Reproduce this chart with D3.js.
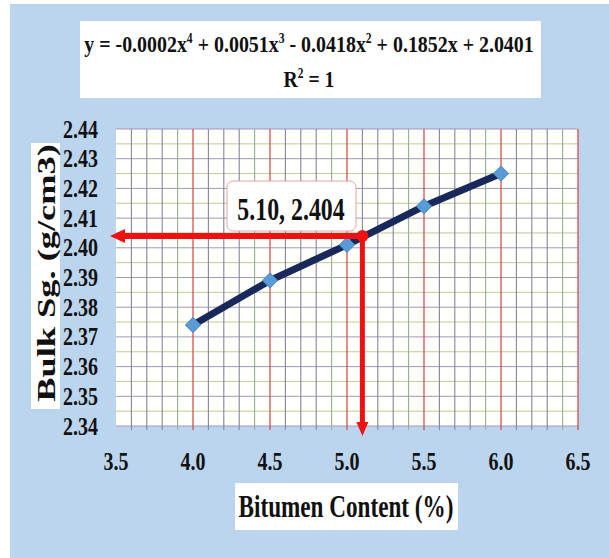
<!DOCTYPE html>
<html><head><meta charset="utf-8">
<script src="https://cdn.jsdelivr.net/npm/d3@7"></script>
<style>body{margin:0;background:#fff}svg{display:block}</style>
</head><body>
<svg id="c" width="609" height="558"></svg>
<script>
// ---- data ----
const bitumen = [4.0, 4.5, 5.0, 5.5, 6.0];
const bulkSg = [2.374, 2.389, 2.401, 2.414, 2.425];
const optimum = [5.10, 2.404];
const optimumLabel = "5.10, 2.404";
const xTicks = [3.5, 4.0, 4.5, 5.0, 5.5, 6.0, 6.5];
const yTicks = [2.34, 2.35, 2.36, 2.37, 2.38, 2.39, 2.40, 2.41, 2.42, 2.43, 2.44];
const xTitle = "Bitumen Content (%)";
const yTitle = "Bulk Sg. (g/cm3)";

const FONT = "'Liberation Serif','Times New Roman',serif";
const svg = d3.select("#c");

// background
svg.append("rect").attr("x", 10).attr("y", 4).attr("width", 599).attr("height", 554).attr("fill", "#bcd5ee");

const x = d3.scaleLinear().domain([3.5, 6.5]).range([116, 578]);
const y = d3.scaleLinear().domain([2.34, 2.44]).range([426, 129]);

// plot area
svg.append("rect").attr("x", x(3.5)).attr("y", y(2.44)).attr("width", x(6.5) - x(3.5)).attr("height", y(2.34) - y(2.44)).attr("fill", "#fffffb");

const g = svg.append("g");
// horizontal grid every 0.005
const hLines = d3.range(0, 21).map(i => 2.34 + i * 0.005);
g.selectAll(".hl").data(hLines).join("line")
  .attr("x1", x(3.5)).attr("x2", x(6.5))
  .attr("y1", d => y(d)).attr("y2", d => y(d))
  .attr("stroke", (d, i) => i % 2 === 0 ? "#a397bb" : "#bfcb98")
  .attr("stroke-width", 1);
// vertical minor grid every 0.1
const vMinor = d3.range(0, 31).map(i => 3.5 + i * 0.1).filter((d, i) => i % 5 !== 0);
g.selectAll(".vl").data(vMinor).join("line")
  .attr("x1", d => x(d)).attr("x2", d => x(d))
  .attr("y1", y(2.44)).attr("y2", y(2.34) + 4)
  .attr("stroke", (d, i) => i % 4 === 3 ? "#97ae98" : "#85859f")
  .attr("stroke-width", 1.1);
// vertical major red lines
g.selectAll(".vm").data(xTicks.slice(1)).join("line")
  .attr("x1", d => x(d)).attr("x2", d => x(d))
  .attr("y1", y(2.44)).attr("y2", y(2.34) + 4)
  .attr("stroke", "#d84040").attr("stroke-width", 1.2);

// y tick labels
svg.selectAll(".yt").data(yTicks).join("text")
  .attr("transform", d => `translate(98,${y(d)}) scale(0.8,1)`)
  .attr("text-anchor", "end").attr("dy", "0.34em")
  .attr("font-family", FONT).attr("font-weight", "bold").attr("font-size", 25)
  .attr("fill", "#111").text(d => d.toFixed(2));
// x tick labels
svg.selectAll(".xt").data(xTicks).join("text")
  .attr("transform", d => `translate(${x(d)},470) scale(0.8,1)`)
  .attr("text-anchor", "middle")
  .attr("font-family", FONT).attr("font-weight", "bold").attr("font-size", 25)
  .attr("fill", "#111").text(d => d.toFixed(1));

// series line
const pts = bitumen.map((b, i) => [b, bulkSg[i]]);
svg.append("path").datum(pts)
  .attr("d", d3.line().x(d => x(d[0])).y(d => y(d[1])))
  .attr("fill", "none").attr("stroke", "#19285a").attr("stroke-width", 7).attr("stroke-linejoin", "round");
svg.selectAll(".mk").data(pts).join("path")
  .attr("d", d3.symbol(d3.symbolDiamond2, 150))
  .attr("transform", d => `translate(${x(d[0])},${y(d[1])})`)
  .attr("fill", "#5b9bd5").attr("stroke", "#4a8ac8").attr("stroke-width", 1);

// red guide lines
const ox = x(optimum[0]), oy = y(optimum[1]);
const red = "#ee1111";
const leftTip = x.range()[0] - 6, bottomTip = y.range()[0] + 10;
svg.append("line").attr("x1", ox).attr("x2", ox).attr("y1", oy).attr("y2", bottomTip - 12)
  .attr("stroke", red).attr("stroke-width", 5);
svg.append("path").attr("d", `M${ox},${bottomTip} L${ox - 6},${bottomTip - 14} L${ox + 6},${bottomTip - 14} Z`).attr("fill", red);

// data label box
svg.append("rect").attr("x", 227).attr("y", 181).attr("width", 129).attr("height", 50).attr("rx", 6)
  .attr("fill", "#fff").attr("stroke", "#e8a0a0").attr("stroke-width", 1);
svg.append("text").attr("transform", "translate(291,220) scale(0.77,1)")
  .attr("text-anchor", "middle").attr("font-family", FONT).attr("font-weight", "bold").attr("font-size", 31)
  .attr("fill", "#111").text(optimumLabel);
// horizontal red line with left arrow
svg.append("line").attr("x1", ox).attr("x2", leftTip + 12).attr("y1", oy).attr("y2", oy)
  .attr("stroke", red).attr("stroke-width", 6);
svg.append("path").attr("d", `M${leftTip},${oy} L${leftTip + 15},${oy - 7} L${leftTip + 15},${oy + 7} Z`).attr("fill", red);
svg.append("circle").attr("cx", ox).attr("cy", oy).attr("r", 6).attr("fill", red);

// equation box
svg.append("rect").attr("x", 80).attr("y", 21).attr("width", 461).attr("height", 77).attr("fill", "#fff");
const eq = svg.append("text").attr("transform", "translate(309,52) scale(0.83,1)")
  .attr("text-anchor", "middle").attr("font-family", FONT).attr("font-weight", "bold").attr("font-size", 24).attr("fill", "#111");
const parts = [["y = -0.0002x", false], ["4", true], [" + 0.0051x", false], ["3", true], [" - 0.0418x", false], ["2", true], [" + 0.1852x + 2.0401", false]];
let up = false;
parts.forEach(([t, sup]) => {
  const ts = eq.append("tspan").text(t);
  if (sup) { ts.attr("font-size", 14).attr("dy", -9); up = true; }
  else if (up) { ts.attr("dy", 9); up = false; }
});
const r2 = svg.append("text").attr("transform", "translate(309,87) scale(0.82,1)")
  .attr("text-anchor", "middle").attr("font-family", FONT).attr("font-weight", "bold").attr("font-size", 24).attr("fill", "#111");
r2.append("tspan").text("R");
r2.append("tspan").text("2").attr("font-size", 14).attr("dy", -9);
r2.append("tspan").text(" = 1").attr("dy", 9);

// x title
svg.append("rect").attr("x", 235).attr("y", 483).attr("width", 223).attr("height", 47).attr("fill", "#fff");
svg.append("text").attr("transform", "translate(346,517) scale(0.724,1)")
  .attr("text-anchor", "middle").attr("font-family", FONT).attr("font-weight", "bold").attr("font-size", 32)
  .attr("fill", "#111").text(xTitle);

// y title
svg.append("rect").attr("x", 31).attr("y", 143).attr("width", 29).attr("height", 266).attr("fill", "#fff");
svg.append("text").attr("transform", "translate(55,273) rotate(-90) scale(1.136,0.755)")
  .attr("text-anchor", "middle").attr("font-family", FONT).attr("font-weight", "bold").attr("font-size", 32)
  .attr("fill", "#111").text(yTitle);
</script>
</body></html>
